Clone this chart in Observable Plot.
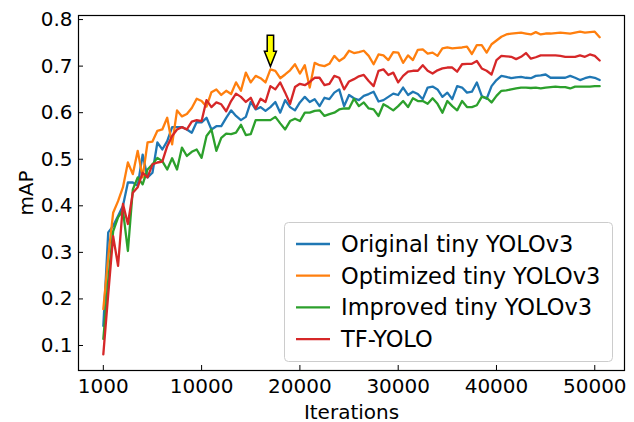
<!DOCTYPE html>
<html><head><meta charset="utf-8">
<script src="https://cdn.jsdelivr.net/npm/d3@7"></script>
<script src="https://cdn.jsdelivr.net/npm/@observablehq/plot@0.6"></script>
<style>body{margin:0;background:#fff}</style>
</head><body><div id="chart"></div><script>
const seriesNames = ["Original tiny YOLOv3","Optimized tiny YOLOv3","Improved tiny YOLOv3","TF-YOLO"];
const colors = ["#1f77b4","#ff7f0e","#2ca02c","#d62728"];
const iterations = d3.range(0, 50501, 500);
const original = [0.142,0.343,0.357,0.378,0.40,0.45,0.45,0.443,0.51,0.461,
 0.471,0.536,0.521,0.539,0.569,0.569,0.569,0.564,0.557,0.58,
 0.579,0.589,0.564,0.571,0.571,0.589,0.605,0.593,0.584,0.591,
 0.623,0.607,0.612,0.604,0.612,0.623,0.600,0.627,0.612,0.605,
 0.622,0.634,0.623,0.629,0.614,0.632,0.629,0.643,0.650,0.614,
 0.638,0.631,0.627,0.636,0.640,0.645,0.624,0.627,0.634,0.641,
 0.638,0.654,0.638,0.645,0.640,0.629,0.654,0.656,0.650,0.634,
 0.643,0.629,0.657,0.654,0.643,0.645,0.665,0.636,0.630,0.657,
 0.670,0.679,0.677,0.674,0.676,0.677,0.675,0.674,0.679,0.680,
 0.682,0.675,0.675,0.675,0.675,0.679,0.675,0.670,0.674,0.677,
 0.675,0.670];
const optimized = [0.178,0.29,0.385,0.41,0.44,0.493,0.468,0.518,0.461,0.536,
 0.538,0.561,0.564,0.589,0.532,0.605,0.592,0.597,0.610,0.630,
 0.625,0.613,0.644,0.650,0.638,0.647,0.640,0.665,0.647,0.686,
 0.665,0.679,0.674,0.665,0.693,0.690,0.674,0.682,0.691,0.704,
 0.684,0.702,0.654,0.707,0.702,0.700,0.705,0.722,0.711,0.718,
 0.733,0.728,0.730,0.733,0.722,0.704,0.725,0.723,0.713,0.730,
 0.729,0.707,0.723,0.713,0.735,0.736,0.727,0.729,0.722,0.738,
 0.740,0.738,0.739,0.740,0.742,0.726,0.745,0.745,0.729,0.747,
 0.755,0.763,0.768,0.770,0.771,0.772,0.770,0.768,0.773,0.768,
 0.770,0.770,0.771,0.772,0.771,0.770,0.772,0.774,0.772,0.773,
 0.774,0.762];
const improved = [0.114,0.24,0.345,0.375,0.39,0.303,0.435,0.461,0.446,0.478,
 0.489,0.503,0.496,0.478,0.502,0.478,0.525,0.507,0.516,0.521,
 0.503,0.55,0.564,0.518,0.546,0.555,0.554,0.557,0.574,0.552,
 0.554,0.584,0.584,0.584,0.584,0.591,0.577,0.564,0.582,0.587,
 0.582,0.600,0.600,0.604,0.605,0.593,0.597,0.600,0.607,0.609,
 0.609,0.630,0.614,0.622,0.609,0.607,0.593,0.618,0.612,0.605,
 0.614,0.625,0.612,0.631,0.625,0.625,0.619,0.631,0.619,0.600,
 0.625,0.614,0.605,0.625,0.612,0.612,0.616,0.634,0.632,0.622,
 0.636,0.647,0.648,0.650,0.652,0.654,0.654,0.653,0.654,0.652,
 0.654,0.655,0.656,0.655,0.655,0.652,0.656,0.656,0.656,0.656,
 0.657,0.657];
const tfyolo = [0.081,0.21,0.335,0.271,0.404,0.361,0.428,0.44,0.471,0.461,
 0.489,0.493,0.495,0.528,0.550,0.564,0.569,0.564,0.581,0.584,
 0.582,0.627,0.612,0.622,0.618,0.603,0.625,0.641,0.634,0.623,
 0.632,0.609,0.630,0.623,0.657,0.650,0.665,0.643,0.619,0.655,
 0.662,0.659,0.666,0.675,0.675,0.659,0.662,0.679,0.675,0.650,
 0.667,0.672,0.678,0.681,0.668,0.657,0.690,0.693,0.681,0.686,
 0.665,0.679,0.688,0.690,0.690,0.702,0.690,0.684,0.691,0.695,
 0.697,0.697,0.688,0.704,0.705,0.705,0.711,0.695,0.690,0.682,
 0.713,0.722,0.721,0.720,0.715,0.720,0.728,0.716,0.719,0.723,
 0.723,0.723,0.723,0.722,0.720,0.720,0.720,0.723,0.720,0.725,
 0.722,0.712];
const xTicks = [0,10000,20000,30000,40000,50000];
const xTickLabels = ["1000","10000","20000","30000","40000","50000"];
const yTicks = [0.1,0.2,0.3,0.4,0.5,0.6,0.7,0.8];
const arrowAt = {series: "Optimized tiny YOLOv3", iteration: 17000};

const all = [original, optimized, improved, tfyolo];
const data = [];
all.forEach((vals, k) => vals.forEach((v, i) => data.push({series: seriesNames[k], iteration: iterations[i], mAP: v})));
const arrowData = data.filter(d => d.series === arrowAt.series && d.iteration === arrowAt.iteration);

const arrowSymbol = {draw(ctx) {
  ctx.moveTo(0, 0); ctx.lineTo(-6, -15); ctx.lineTo(-3.2, -15); ctx.lineTo(-3.2, -31);
  ctx.lineTo(3.2, -31); ctx.lineTo(3.2, -15); ctx.lineTo(6, -15); ctx.closePath();
}};

const font = "DejaVu Sans";
const fs = 20;
const chart = Plot.plot({
  width: 634, height: 422,
  marginLeft: 78, marginRight: 10, marginTop: 15, marginBottom: 52,
  style: {fontFamily: font, fontSize: fs + "px", color: "#000", background: "#fff"},
  x: {domain: [-2525, 53025]},
  y: {domain: [0.0463, 0.8087]},
  color: {domain: seriesNames, range: colors},
  marks: [
    Plot.line(data, {x: "iteration", y: "mAP", z: "series", stroke: "series", strokeWidth: 2.3, strokeLinejoin: "round"}),
    Plot.dot(arrowData, {x: "iteration", y: "mAP", symbol: arrowSymbol, fill: "#ffff00", stroke: "#000", strokeWidth: 1.5, dy: -3}),
    Plot.frame({stroke: "#000", strokeWidth: 1.2}),
    Plot.axisX(xTicks, {tickSize: -5, tickPadding: 13, tickFormat: d => xTickLabels[xTicks.indexOf(d)], label: "Iterations", labelAnchor: "center", labelOffset: 48, labelArrow: "none", fontSize: fs}),
    Plot.axisY(yTicks, {tickSize: -5, tickPadding: 11, tickFormat: d => d.toFixed(1), label: "mAP", labelAnchor: "center", labelOffset: 60, labelArrow: "none", fontSize: fs})
  ]
});
document.getElementById("chart").appendChild(chart);

// legend box inside the axes
const legendFs = 22.5;
const svg = d3.select(chart);
const lg = svg.append("g").attr("font-family", font).attr("font-size", legendFs).attr("text-anchor", "start");
lg.append("rect").attr("x", 284.5).attr("y", 222.5).attr("width", 328).attr("height", 139).attr("rx", 4)
  .attr("fill", "#fff").attr("fill-opacity", 0.8).attr("stroke", "#cccccc");
seriesNames.forEach((name, k) => {
  const cy = 244 + k * 31.7;
  lg.append("line").attr("x1", 296).attr("x2", 330).attr("y1", cy).attr("y2", cy)
    .attr("stroke", colors[k]).attr("stroke-width", 2.3);
  lg.append("text").attr("x", 341).attr("y", cy).attr("dy", "0.35em").attr("fill", "#000")
    .attr("text-anchor", "start").text(name);
});
</script></body></html>
